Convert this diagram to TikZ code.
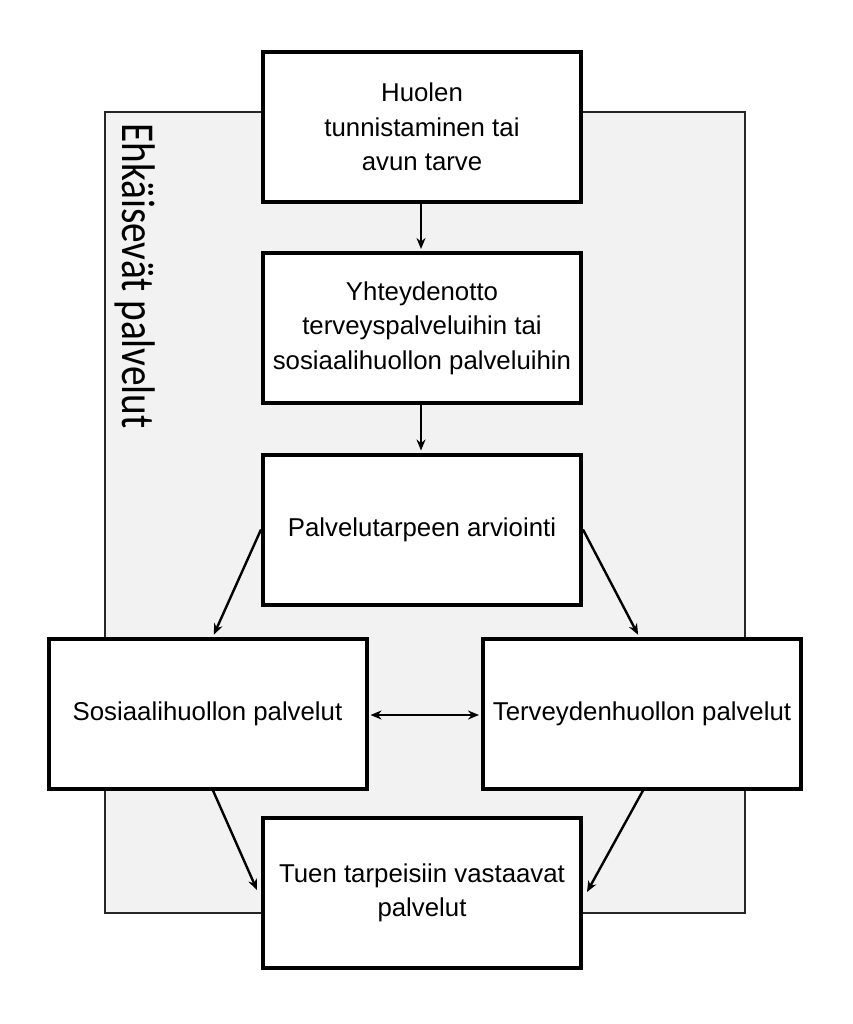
\documentclass[tikz,border=0pt]{standalone}
\usepackage{graphicx}
\usepackage{fontspec}
\setmainfont{Liberation Sans}
\newfontfamily\sidefont{Carlito}
\usetikzlibrary{arrows.meta}
\definecolor{bggray}{HTML}{F2F2F2}
\definecolor{bgline}{HTML}{262626}
\begin{document}
\begin{tikzpicture}[x=1pt,y=-1pt,
  boxnode/.style={draw=black, line width=4pt, fill=white, minimum width=318pt,
    minimum height=150pt, inner sep=0pt, align=center,
    font=\fontsize{25.8}{34.5}\selectfont},
  conn/.style={line width=2.4pt, -{Stealth[length=11pt,width=9pt]}},
  dconn/.style={line width=2.4pt, {Stealth[length=11pt,width=9pt]}-{Stealth[length=11pt,width=9pt]}},
]
\useasboundingbox (0,0) rectangle (852,1024);
\fill[white] (0,0) rectangle (852,1024);
\node[draw=bgline, fill=bggray, line width=2pt, minimum width=640pt, minimum height=801pt, inner sep=0pt] (bg) at (425,512.5) {};
\node[rotate=-90, anchor=base, inner sep=0pt] (side) at (122,276)
  {\sidefont\fontsize{39.3}{40}\selectfont\scalebox{1}[1.2]{Ehkäisevät palvelut}};
\node[boxnode] (b1) at (422,127) {Huolen\\tunnistaminen tai\\avun tarve};
\node[boxnode] (b2) at (422,328) {Yhteydenotto\\terveyspalveluihin tai\\sosiaalihuollon palveluihin};
\node[boxnode] (b3) at (422,529.5) {Palvelutarpeen arviointi};
\node[boxnode] (b4) at (207.5,713.5) {Sosiaalihuollon palvelut};
\node[boxnode] (b5) at (642,713.5) {Terveydenhuollon palvelut};
\node[boxnode] (b6) at (422,893) {Tuen tarpeisiin vastaavat\\palvelut};
\draw[conn, shorten >=2pt] ([xshift=-1pt]b1.south) -- ([xshift=-1pt]b2.north);
\draw[conn, shorten >=2pt] ([xshift=-1pt]b2.south) -- ([xshift=-1pt]b3.north);
\draw[conn, shorten >=2pt] (b3.west) -- ([xshift=5.5pt]b4.north);
\draw[conn, shorten >=2pt] (b3.east) -- ([xshift=-3pt]b5.north);
\draw[dconn, shorten >=2pt, shorten <=2pt] ([yshift=-1.5pt]b4.east) -- ([yshift=-1.5pt]b5.west);
\draw[conn] ([xshift=5.5pt]b4.south) -- ([xshift=-4pt,yshift=3pt]b6.west);
\draw[conn] ([xshift=1pt]b5.south) -- ([xshift=4pt,yshift=1pt]b6.east);
\end{tikzpicture}
\end{document}
